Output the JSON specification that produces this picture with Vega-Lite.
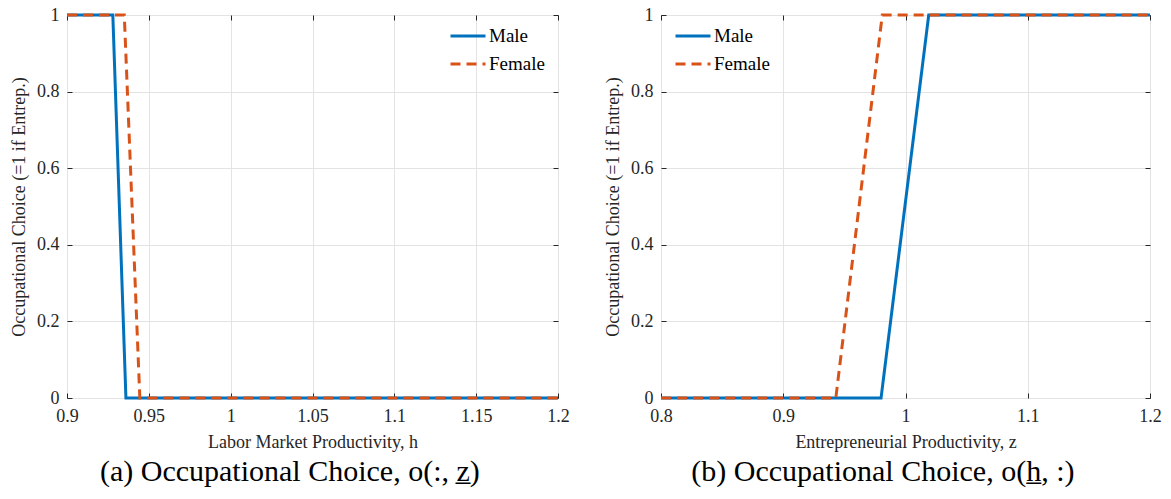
{
"$schema": "https://vega.github.io/schema/vega-lite/v6.json",
"padding": {"left": 10, "top": 5, "right": 10, "bottom": 5},
"background": "white",
"datasets": {
 "left": [
  {"sex": "Male", "x": 0.9, "y": 1}, {"sex": "Male", "x": 0.928, "y": 1}, {"sex": "Male", "x": 0.936, "y": 0}, {"sex": "Male", "x": 1.2, "y": 0},
  {"sex": "Female", "x": 0.9, "y": 1}, {"sex": "Female", "x": 0.935, "y": 1}, {"sex": "Female", "x": 0.9445, "y": 0}, {"sex": "Female", "x": 1.2, "y": 0}
 ],
 "right": [
  {"sex": "Male", "x": 0.8, "y": 0}, {"sex": "Male", "x": 0.98, "y": 0}, {"sex": "Male", "x": 1.019, "y": 1}, {"sex": "Male", "x": 1.2, "y": 1},
  {"sex": "Female", "x": 0.8, "y": 0}, {"sex": "Female", "x": 0.943, "y": 0}, {"sex": "Female", "x": 0.981, "y": 1}, {"sex": "Female", "x": 1.2, "y": 1}
 ]
},
"config": {
 "font": "'Liberation Serif', 'DejaVu Serif', serif",
 "view": {"stroke": "#262626", "strokeWidth": 1},
 "axis": {"labelFont": "'Liberation Serif', 'DejaVu Serif', serif", "labelFontSize": 18, "labelColor": "#262626", "titleFont": "'Liberation Serif', 'DejaVu Serif', serif", "titleFontSize": 18, "titleFontWeight": "normal", "titleColor": "#262626", "gridColor": "#e3e3e3", "domain": false, "tickColor": "#262626", "tickSize": -5, "labelPadding": 14, "labelFlush": false},
 "axisY": {"labelPadding": 13, "titlePadding": 8},
 "axisX": {"titlePadding": 8},
 "title": {"font": "'Liberation Serif', 'DejaVu Serif', serif", "fontSize": 30, "fontWeight": "normal", "color": "#000000", "orient": "bottom", "frame": "bounds", "anchor": "middle", "offset": 6},
 "legend": {"labelFont": "'Liberation Serif', 'DejaVu Serif', serif", "labelFontSize": 19, "labelColor": "#000000", "padding": 5, "rowPadding": 9, "clipHeight": 16, "symbolType": "stroke", "symbolSize": 1225, "symbolStrokeWidth": 3, "labelOffset": 2, "offset": 8, "title": null}
},
"spacing": 34,
"hconcat": [
 {
  "title": "(a) Occupational Choice, o(:, z̲)",
  "width": 491, "height": 383,
  "data": {"name": "left"},
  "layer": [
   {
    "mark": {"type": "line", "strokeWidth": 3},
    "encoding": {
     "x": {"field": "x", "type": "quantitative", "scale": {"domain": [0.9, 1.2], "nice": false, "zero": false}, "axis": {"title": "Labor Market Productivity, h", "values": [0.9, 0.95, 1, 1.05, 1.1, 1.15, 1.2], "format": "~g"}},
     "y": {"field": "y", "type": "quantitative", "scale": {"domain": [0, 1], "nice": false}, "axis": {"title": "Occupational Choice (=1 if Entrep.)", "values": [0, 0.2, 0.4, 0.6, 0.8, 1], "format": "~g"}},
     "color": {"field": "sex", "type": "nominal", "scale": {"domain": ["Male", "Female"], "range": ["#0072BD", "#D95319"]}, "legend": {"orient": "top-right"}},
     "strokeDash": {"field": "sex", "type": "nominal", "scale": {"domain": ["Male", "Female"], "range": [[1, 0], [10, 6]]}, "legend": {"orient": "top-right"}},
     "order": {"field": "x", "type": "quantitative"}
    }
   },
   {
    "mark": {"type": "line", "strokeOpacity": 0},
    "encoding": {
     "x": {"field": "x", "type": "quantitative", "axis": {"orient": "top", "title": null, "labels": false, "grid": false, "values": [0.9, 0.95, 1, 1.05, 1.1, 1.15, 1.2]}},
     "y": {"field": "y", "type": "quantitative", "axis": {"orient": "right", "title": null, "labels": false, "grid": false, "values": [0, 0.2, 0.4, 0.6, 0.8, 1]}},
     "detail": {"field": "sex"}
    }
   }
  ],
  "resolve": {"axis": {"x": "independent", "y": "independent"}}
 },
 {
  "title": "(b) Occupational Choice, o(h̲, :)",
  "width": 489, "height": 383,
  "data": {"name": "right"},
  "layer": [
   {
    "mark": {"type": "line", "strokeWidth": 3},
    "encoding": {
     "x": {"field": "x", "type": "quantitative", "scale": {"domain": [0.8, 1.2], "nice": false, "zero": false}, "axis": {"title": "Entrepreneurial Productivity, z", "values": [0.8, 0.9, 1, 1.1, 1.2], "format": "~g"}},
     "y": {"field": "y", "type": "quantitative", "scale": {"domain": [0, 1], "nice": false}, "axis": {"title": "Occupational Choice (=1 if Entrep.)", "values": [0, 0.2, 0.4, 0.6, 0.8, 1], "format": "~g"}},
     "color": {"field": "sex", "type": "nominal", "scale": {"domain": ["Male", "Female"], "range": ["#0072BD", "#D95319"]}, "legend": {"orient": "top-left"}},
     "strokeDash": {"field": "sex", "type": "nominal", "scale": {"domain": ["Male", "Female"], "range": [[1, 0], [10, 6]]}, "legend": {"orient": "top-left"}},
     "order": {"field": "x", "type": "quantitative"}
    }
   },
   {
    "mark": {"type": "line", "strokeOpacity": 0},
    "encoding": {
     "x": {"field": "x", "type": "quantitative", "axis": {"orient": "top", "title": null, "labels": false, "grid": false, "values": [0.8, 0.9, 1, 1.1, 1.2]}},
     "y": {"field": "y", "type": "quantitative", "axis": {"orient": "right", "title": null, "labels": false, "grid": false, "values": [0, 0.2, 0.4, 0.6, 0.8, 1]}},
     "detail": {"field": "sex"}
    }
   }
  ],
  "resolve": {"axis": {"x": "independent", "y": "independent"}}
 }
],
"resolve": {"scale": {"color": "independent", "strokeDash": "independent"}, "legend": {"color": "independent", "strokeDash": "independent"}}
}
